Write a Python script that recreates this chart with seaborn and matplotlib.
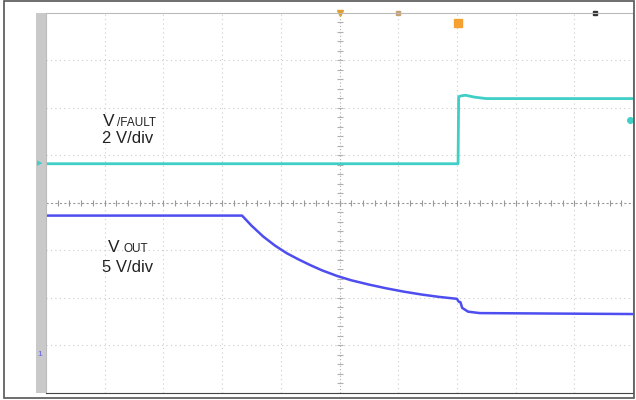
import numpy as np
import pandas as pd
import matplotlib
matplotlib.use("Agg")
import matplotlib.pyplot as plt
from matplotlib.patches import Rectangle
import seaborn as sns

# ---- data (oscilloscope divisions: x 0..10, y -4..4) ----
fault_t = [0.0, 7.02, 7.03, 7.08, 7.15, 7.30, 7.50, 10.0]
fault_v = [0.82, 0.82, 2.23, 2.25, 2.26, 2.22, 2.19, 2.19]

vout_t = [0.0, 3.34, 3.50, 3.70, 3.90, 4.10, 4.30, 4.50, 4.70, 4.96,
          5.20, 5.50, 5.80, 6.10, 6.40, 6.70, 7.00,
          7.03, 7.06, 7.09, 7.14, 7.19, 7.39, 10.0]
vout_v = [-0.27, -0.27, -0.48, -0.71, -0.90, -1.06, -1.19, -1.31, -1.42, -1.54,
          -1.63, -1.72, -1.80, -1.87, -1.93, -1.98, -2.02,
          -2.08, -2.09, -2.21, -2.25, -2.29, -2.32, -2.34]

labels = ["V", "/FAULT", "2 V/div", "V", "OUT", "5 V/div"]

sns.set_theme(style="white")
plt.rcParams['font.family'] = ['Liberation Sans', 'DejaVu Sans']

W, H = 636, 400
fig = plt.figure(figsize=(W / 100, H / 100), dpi=100)
fig.patch.set_facecolor("white")

def px(x0, y0, x1, y1):
    return [x0 / W, 1 - y1 / H, (x1 - x0) / W, (y1 - y0) / H]

ax = fig.add_axes(px(46, 12.5, 633, 393))
ax.set_xlim(0, 10)
ax.set_ylim(-4, 4)

# outer frame
fig.add_artist(Rectangle((4 / W, 2 / H), 630 / W, 397 / H, transform=fig.transFigure,
                         fill=False, edgecolor="#555555", lw=1.2))
# left gray strip
fig.add_artist(Rectangle((36 / W, 1 - 393 / H), 10 / W, 380.5 / H, transform=fig.transFigure,
                         facecolor="#c9c9c9", edgecolor="none"))

# grid
grid_c = "#cccccc"
for gx in range(1, 10):
    if gx != 5:
        ax.axvline(gx, color=grid_c, lw=0.8, ls=(0, (1, 3)), zorder=0)
for gy in range(-3, 4):
    if gy != 0:
        ax.axhline(gy, color=grid_c, lw=0.8, ls=(0, (1, 3)), zorder=0)
ax.axvline(5, color="#b0b0b0", lw=0.8, ls=(0, (1, 2)), zorder=0)
ax.axhline(0, color="#999999", lw=0.8, ls=(0, (2, 2)), zorder=0)
ticks = np.arange(0, 10.01, 0.2)
ax.plot(ticks, np.zeros_like(ticks), ls="none", marker="|", ms=4, color="#999999", mew=0.8)
tky = np.arange(-4, 4.01, 0.2)
ax.plot(np.full_like(tky, 5.0), tky, ls="none", marker="_", ms=4, color="#b0b0b0", mew=0.8)

# traces
df_fault = pd.DataFrame({"t": fault_t, "v": fault_v})
df_vout = pd.DataFrame({"t": vout_t, "v": vout_v})
sns.lineplot(data=df_fault, x="t", y="v", ax=ax, color="#3fcfc6", lw=2.0,
             estimator=None, sort=False)
sns.lineplot(data=df_vout, x="t", y="v", ax=ax, color="#4d4df0", lw=1.8,
             estimator=None, sort=False)

# markers
ax.plot([7.02], [3.77], marker="s", ms=6, color="#f5a030", clip_on=False)
ax.plot([5.0], [3.98], marker="v", ms=4, color="#e0a030", clip_on=False)
ax.plot([6.0], [3.98], marker="s", ms=3, color="#c8a070", clip_on=False)
ax.plot([9.35], [3.98], marker="s", ms=3, color="#333333", clip_on=False)
ax.plot([9.95], [1.75], marker="o", ms=4, color="#3fcfc6", clip_on=False)
fig.text(40 / W, 1 - 163 / H, "▸", color="#3fcfc6", fontsize=8, ha="center", va="center")
fig.text(40 / W, 1 - 354 / H, "1", color="#6060f0", fontsize=6, ha="center", va="center")

# labels
fig.text(103 / W, 1 - 126 / H, labels[0], fontsize=12.5, color="#222222", ha="left", va="baseline")
fig.text(117 / W, 1 - 126 / H, labels[1], fontsize=8.5, color="#222222", ha="left", va="baseline")
fig.text(102 / W, 1 - 143 / H, labels[2], fontsize=12, color="#222222", ha="left", va="baseline")
fig.text(108 / W, 1 - 252 / H, labels[3], fontsize=12.5, color="#222222", ha="left", va="baseline")
fig.text(123 / W, 1 - 252 / H, labels[4], fontsize=8.5, color="#222222", ha="left", va="baseline")
fig.text(102 / W, 1 - 272 / H, labels[5], fontsize=12, color="#222222", ha="left", va="baseline")

ax.set_xticks([])
ax.set_yticks([])
ax.set_xlabel("")
ax.set_ylabel("")
for s in ["top", "right", "bottom", "left"]:
    ax.spines[s].set_visible(True)
    ax.spines[s].set_linewidth(0.8)
ax.spines["top"].set_color("#bbbbbb")
ax.spines["right"].set_color("#bbbbbb")
ax.spines["left"].set_color("#bbbbbb")
ax.spines["bottom"].set_color("#444444")

fig.savefig("out.png", dpi=100)
